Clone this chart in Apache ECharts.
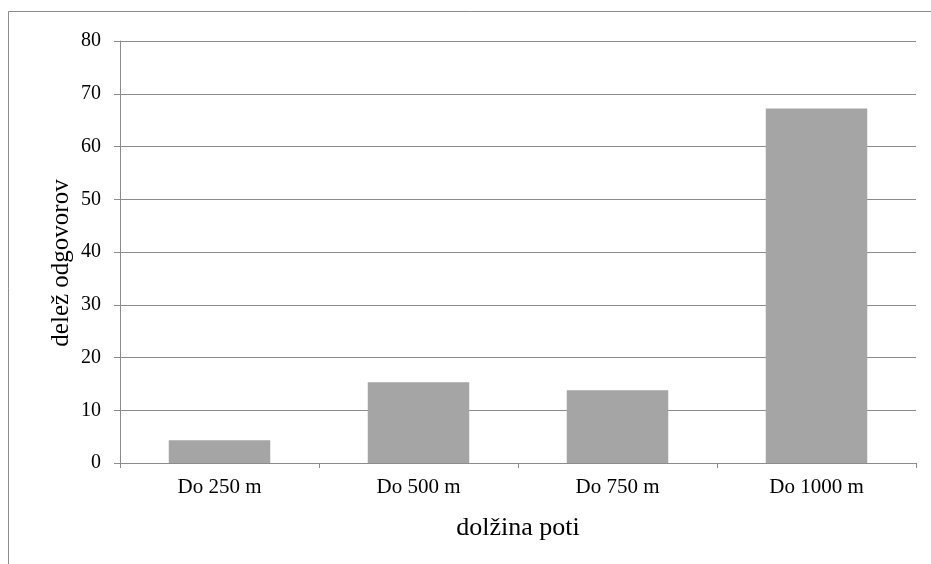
<!DOCTYPE html>
<html>
<head>
<meta charset="utf-8">
<script src="https://cdn.jsdelivr.net/npm/echarts@6/dist/echarts.min.js"></script>
<style>
  html, body { margin: 0; padding: 0; background: #fff; }
  #chart { width: 931px; height: 564px; }
</style>
</head>
<body>
<div id="chart"></div>
<script>
const categories = ['Do 250 m', 'Do 500 m', 'Do 750 m', 'Do 1000 m'];
const values = [4.3, 15.3, 13.8, 67.2];
const xTitle = 'dolžina poti';
const yTitle = 'delež odgovorov';

const font = '"Liberation Serif", "Times New Roman", Times, "DejaVu Serif", serif';
const gridColor = '#8c8c8c';

const chart = echarts.init(document.getElementById('chart'), null, { renderer: 'canvas' });
chart.setOption({
  backgroundColor: '#ffffff',
  animation: false,
  grid: { left: 120, right: 15, top: 41, bottom: 101, containLabel: false },
  xAxis: {
    type: 'category',
    data: categories,
    boundaryGap: true,
    axisLine: { show: true, lineStyle: { color: gridColor, width: 1 } },
    axisTick: { show: true, length: 5, alignWithLabel: false, lineStyle: { color: gridColor } },
    axisLabel: { color: '#000', fontFamily: font, fontSize: 21, margin: 14 },
    splitLine: { show: false }
  },
  yAxis: {
    type: 'value',
    min: 0, max: 80, interval: 10,
    axisLine: { show: true, lineStyle: { color: gridColor, width: 1 } },
    axisTick: { show: true, length: 6, lineStyle: { color: gridColor } },
    axisLabel: { color: '#000', fontFamily: font, fontSize: 20, margin: 19 },
    splitLine: { show: true, lineStyle: { color: gridColor, width: 1 } }
  },
  series: [{
    type: 'bar',
    data: values,
    barCategoryGap: '49%',
    itemStyle: { color: '#a5a5a5' }
  }],
  graphic: [
    {
      type: 'rect',
      shape: { x: 8.5, y: 11.5, width: 1000, height: 1000 },
      style: { fill: 'none', stroke: '#8c8c8c', lineWidth: 1 },
      silent: true, z: -1
    },
    {
      type: 'text',
      x: 61, y: 263,
      rotation: Math.PI / 2,
      style: { text: yTitle, fontFamily: font, fontSize: 25, fill: '#000', align: 'center', verticalAlign: 'middle' }
    },
    {
      type: 'text',
      x: 518, y: 528,
      style: { text: xTitle, fontFamily: font, fontSize: 26, fill: '#000', align: 'center', verticalAlign: 'middle' }
    }
  ]
});
</script>
</body>
</html>
